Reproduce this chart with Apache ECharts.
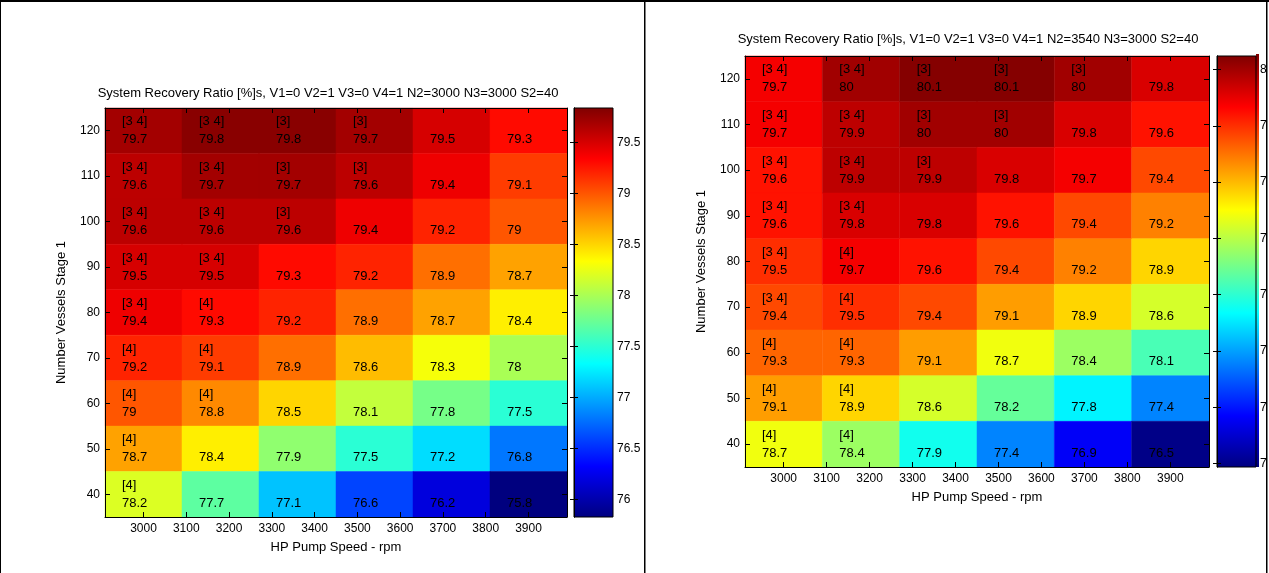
<!DOCTYPE html>
<html>
<head>
<meta charset="utf-8">
<script src="https://cdn.jsdelivr.net/npm/echarts@6/dist/echarts.min.js"></script>
<style>
html,body{margin:0;padding:0;background:#fff;}
#chart{width:1269px;height:573px;}
</style>
</head>
<body>
<div id="chart"></div>
<script>
// ---------- data ----------
const pumpSpeeds = [3000, 3180, 3360, 3540, 3720, 3900];          // column centres (rpm)
const vesselCounts = [120, 110, 100, 90, 80, 70, 60, 50, 40];      // row centres (top -> bottom)
const xTickValues = [3000, 3100, 3200, 3300, 3400, 3500, 3600, 3700, 3800, 3900];
const yTickValues = [40, 50, 60, 70, 80, 90, 100, 110, 120];

const titleLeft = 'System Recovery Ratio [%]s, V1=0 V2=1 V3=0 V4=1 N2=3000 N3=3000 S2=40';
const titleRight = 'System Recovery Ratio [%]s, V1=0 V2=1 V3=0 V4=1 N2=3540 N3=3000 S2=40';
const xAxisTitle = 'HP Pump Speed - rpm';
const yAxisTitle = 'Number Vessels Stage 1';

const ratioLeft = [
  [79.7, 79.8, 79.8, 79.7, 79.5, 79.3],
  [79.6, 79.7, 79.7, 79.6, 79.4, 79.1],
  [79.6, 79.6, 79.6, 79.4, 79.2, 79],
  [79.5, 79.5, 79.3, 79.2, 78.9, 78.7],
  [79.4, 79.3, 79.2, 78.9, 78.7, 78.4],
  [79.2, 79.1, 78.9, 78.6, 78.3, 78],
  [79, 78.8, 78.5, 78.1, 77.8, 77.5],
  [78.7, 78.4, 77.9, 77.5, 77.2, 76.8],
  [78.2, 77.7, 77.1, 76.6, 76.2, 75.8]
];
const tagsLeft = [
  ['[3 4]', '[3 4]', '[3]', '[3]', '', ''],
  ['[3 4]', '[3 4]', '[3]', '[3]', '', ''],
  ['[3 4]', '[3 4]', '[3]', '', '', ''],
  ['[3 4]', '[3 4]', '', '', '', ''],
  ['[3 4]', '[4]', '', '', '', ''],
  ['[4]', '[4]', '', '', '', ''],
  ['[4]', '[4]', '', '', '', ''],
  ['[4]', '', '', '', '', ''],
  ['[4]', '', '', '', '', '']
];
const ratioRight = [
  [79.7, 80, 80.1, 80.1, 80, 79.8],
  [79.7, 79.9, 80, 80, 79.8, 79.6],
  [79.6, 79.9, 79.9, 79.8, 79.7, 79.4],
  [79.6, 79.8, 79.8, 79.6, 79.4, 79.2],
  [79.5, 79.7, 79.6, 79.4, 79.2, 78.9],
  [79.4, 79.5, 79.4, 79.1, 78.9, 78.6],
  [79.3, 79.3, 79.1, 78.7, 78.4, 78.1],
  [79.1, 78.9, 78.6, 78.2, 77.8, 77.4],
  [78.7, 78.4, 77.9, 77.4, 76.9, 76.5]
];
const tagsRight = [
  ['[3 4]', '[3 4]', '[3]', '[3]', '[3]', ''],
  ['[3 4]', '[3 4]', '[3]', '[3]', '', ''],
  ['[3 4]', '[3 4]', '[3]', '', '', ''],
  ['[3 4]', '[3 4]', '', '', '', ''],
  ['[3 4]', '[4]', '', '', '', ''],
  ['[3 4]', '[4]', '', '', '', ''],
  ['[4]', '[4]', '', '', '', ''],
  ['[4]', '[4]', '', '', '', ''],
  ['[4]', '[4]', '', '', '', '']
];
const colorRangeLeft = [75.83, 79.84];
const colorRangeRight = [76.47, 80.12];
const colorTicksLeft = [76, 76.5, 77, 77.5, 78, 78.5, 79, 79.5];
const colorTicksRight = [76.5, 77, 77.5, 78, 78.5, 79, 79.5, 80];

// MATLAB "jet" colormap stops (equally spaced at 1/8)
const jetColors = ['#00007F', '#0000FF', '#007FFF', '#00FFFF', '#7FFF7F', '#FFFF00', '#FF7F00', '#FF0000', '#7F0000'];

// ---------- helpers ----------
const FONT = '"Liberation Sans", Arial, Helvetica, sans-serif';
const halfX = (pumpSpeeds[1] - pumpSpeeds[0]) / 2;
const halfY = (vesselCounts[0] - vesselCounts[1]) / 2;

function buildCells(ratio, tags) {
  const data = [], tagList = [];
  vesselCounts.forEach((v, r) => {
    pumpSpeeds.forEach((s, c) => {
      data.push([s, v, ratio[r][c]]);
      tagList.push(tags[r][c]);
    });
  });
  return { data, tagList };
}

function heatRenderer(tagList) {
  return function (params, api) {
    const x = api.value(0), y = api.value(1);
    const a = api.coord([x - halfX, y + halfY]);
    const b = api.coord([x + halfX, y - halfY]);
    const cy = (a[1] + b[1]) / 2;
    const tx = a[0] + 17;
    const children = [{
      type: 'rect',
      shape: { x: a[0], y: a[1], width: b[0] - a[0], height: b[1] - a[1] },
      style: { fill: api.visual('color'), stroke: api.visual('color'), lineWidth: 0.5 }
    }];
    const tag = tagList[params.dataIndex];
    const txtStyle = { fill: '#000', font: '13px ' + FONT, align: 'left', verticalAlign: 'middle' };
    if (tag) {
      children.push({ type: 'text', x: tx, y: cy - 9, style: Object.assign({ text: tag }, txtStyle) });
    }
    children.push({ type: 'text', x: tx, y: cy + 9, style: Object.assign({ text: String(api.value(2)) }, txtStyle) });
    return { type: 'group', children };
  };
}

function colorbarRenderer(range, extraStrip) {
  return function (params, api) {
    const a = api.coord([0, range[1]]);
    const b = api.coord([1, range[0]]);
    const stops = jetColors.map((c, i) => ({ offset: i / (jetColors.length - 1), color: c }));
    const children = [];
    if (extraStrip) {
      children.push({
        type: 'rect',
        shape: { x: b[0], y: a[1] - 2, width: 3, height: b[1] - a[1] + 2 },
        style: { fill: new echarts.graphic.LinearGradient(0, 1, 0, 0, stops) }
      });
    }
    children.push({
      type: 'rect',
      shape: { x: a[0], y: a[1], width: b[0] - a[0], height: b[1] - a[1] },
      style: { fill: new echarts.graphic.LinearGradient(0, 1, 0, 0, stops), stroke: '#000', lineWidth: 1 }
    });
    return { type: 'group', children };
  };
}

const axisLineBlack = { show: true, lineStyle: { color: '#000', width: 1 } };
const plainNumber = v => String(v);

// ---------- layout ----------
const panels = [
  { heat: { left: 105, top: 108, width: 462, height: 409 }, bar: { left: 574, top: 108, width: 39, height: 409 },
    title: titleLeft, titleX: 328, titleTop: 86.5, ratio: ratioLeft, tags: tagsLeft,
    range: colorRangeLeft, cticks: colorTicksLeft, strip: false },
  { heat: { left: 745, top: 56, width: 464, height: 411 }, bar: { left: 1217, top: 56, width: 39, height: 411 },
    title: titleRight, titleX: 968, titleTop: 32.5, ratio: ratioRight, tags: tagsRight,
    range: colorRangeRight, cticks: colorTicksRight, strip: true }
];

const option = {
  backgroundColor: '#fff',
  animation: false,
  textStyle: { fontFamily: FONT },
  title: [], grid: [], xAxis: [], yAxis: [], series: [], visualMap: [],
  graphic: []
};

panels.forEach((p, i) => {
  const g0 = option.grid.length;
  option.grid.push(Object.assign({ containLabel: false, outerBoundsMode: 'none' }, p.heat));
  option.grid.push(Object.assign({ containLabel: false, outerBoundsMode: 'none' }, p.bar));

  option.title.push({
    text: p.title, left: p.titleX, top: p.titleTop, textAlign: 'center', padding: 0,
    textStyle: { fontSize: 13, fontWeight: 'normal', color: '#000', fontFamily: FONT }
  });

  const xMin = pumpSpeeds[0] - halfX, xMax = pumpSpeeds[pumpSpeeds.length - 1] + halfX;
  const yMin = vesselCounts[vesselCounts.length - 1] - halfY, yMax = vesselCounts[0] + halfY;

  const xi = option.xAxis.length;
  option.xAxis.push({
    type: 'value', gridIndex: g0, position: 'bottom', min: xMin, max: xMax, z: 10,
    axisLine: axisLineBlack, splitLine: { show: false },
    axisTick: { inside: true, length: 5, lineStyle: { color: '#000' }, customValues: xTickValues },
    axisLabel: { customValues: xTickValues, formatter: plainNumber, color: '#000', fontSize: 12, margin: 6, fontFamily: FONT },
    name: xAxisTitle, nameLocation: 'middle', nameGap: 24,
    nameTextStyle: { fontSize: 13, color: '#000', fontFamily: FONT }
  });
  option.xAxis.push({
    type: 'value', gridIndex: g0, position: 'top', min: xMin, max: xMax, z: 10,
    axisLine: axisLineBlack, splitLine: { show: false },
    axisTick: { inside: true, length: 5, lineStyle: { color: '#000' }, customValues: xTickValues },
    axisLabel: { show: false }
  });
  option.xAxis.push({ type: 'value', gridIndex: g0 + 1, min: 0, max: 1, show: false });

  const yi = option.yAxis.length;
  option.yAxis.push({
    type: 'value', gridIndex: g0, position: 'left', min: yMin, max: yMax, z: 10,
    axisLine: axisLineBlack, splitLine: { show: false },
    axisTick: { inside: true, length: 5, lineStyle: { color: '#000' }, customValues: yTickValues },
    axisLabel: { customValues: yTickValues, formatter: plainNumber, color: '#000', fontSize: 12, margin: 5, fontFamily: FONT },
    name: yAxisTitle, nameLocation: 'middle', nameGap: 37,
    nameTextStyle: { fontSize: 13, color: '#000', fontFamily: FONT }
  });
  option.yAxis.push({
    type: 'value', gridIndex: g0, position: 'right', min: yMin, max: yMax, z: 10,
    axisLine: axisLineBlack, splitLine: { show: false },
    axisTick: { inside: true, length: 5, lineStyle: { color: '#000' }, customValues: yTickValues },
    axisLabel: { show: false }
  });
  option.yAxis.push({
    type: 'value', gridIndex: g0 + 1, position: 'right', min: p.range[0], max: p.range[1], z: 10,
    axisLine: axisLineBlack, splitLine: { show: false },
    axisTick: { inside: true, length: 4, lineStyle: { color: '#000' }, customValues: p.cticks },
    axisLabel: { customValues: p.cticks, formatter: plainNumber, color: '#000', fontSize: 12, margin: 4, fontFamily: FONT }
  });
  option.yAxis.push({
    type: 'value', gridIndex: g0 + 1, position: 'left', min: p.range[0], max: p.range[1], z: 10,
    axisLine: axisLineBlack, splitLine: { show: false },
    axisTick: { inside: true, length: 4, lineStyle: { color: '#000' }, customValues: p.cticks },
    axisLabel: { show: false }
  });

  const cells = buildCells(p.ratio, p.tags);
  const si = option.series.length;
  option.series.push({
    type: 'custom', name: 'heat' + i, xAxisIndex: xi, yAxisIndex: yi, z: 2,
    renderItem: heatRenderer(cells.tagList),
    encode: { x: 0, y: 1 },
    data: cells.data
  });
  option.series.push({
    type: 'custom', name: 'bar' + i, xAxisIndex: xi + 2, yAxisIndex: yi + 2, z: 2,
    renderItem: colorbarRenderer(p.range, p.strip),
    encode: { x: 0, y: 1 },
    data: [[0, p.range[0]]]
  });
  option.visualMap.push({
    type: 'continuous', show: false, seriesIndex: si, dimension: 2,
    min: p.range[0], max: p.range[1], inRange: { color: jetColors }
  });
});

// figure frame (top edge, left edge, divider, right edge)
option.graphic = [
  { type: 'rect', z: 100, shape: { x: 1267, y: 0, width: 2, height: 573 }, style: { fill: '#fff' } },
  { type: 'rect', z: 101, shape: { x: 0, y: 0, width: 1269, height: 2 }, style: { fill: '#000' } },
  { type: 'rect', z: 101, shape: { x: 0, y: 0, width: 1, height: 573 }, style: { fill: '#000' } },
  { type: 'rect', z: 101, shape: { x: 644, y: 0, width: 1.5, height: 573 }, style: { fill: '#000' } },
  { type: 'rect', z: 101, shape: { x: 1266, y: 0, width: 1.5, height: 573 }, style: { fill: '#000' } }
];

const chart = echarts.init(document.getElementById('chart'), null, { renderer: 'canvas' });
chart.setOption(option);
</script>
</body>
</html>
